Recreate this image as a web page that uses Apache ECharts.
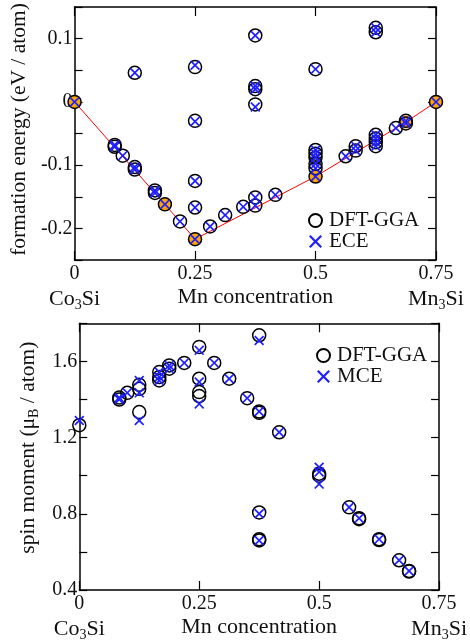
<!DOCTYPE html>
<html>
<head>
<meta charset="utf-8">
<script src="https://cdn.jsdelivr.net/npm/echarts@6/dist/echarts.min.js"></script>
<style>
html, body { margin: 0; padding: 0; background: #fff; }
#main { width: 470px; height: 642px; }
</style>
</head>
<body>
<div id="main"></div>
<script>
// formation energy (eV / atom) vs Mn concentration
var feGga = [
    [0, 0], [0.0833, -0.068], [0.0833, -0.071], [0.1, -0.085], [0.125, 0.046],
    [0.125, -0.103], [0.125, -0.107], [0.1667, -0.140], [0.1667, -0.144],
    [0.1875, -0.162], [0.2188, -0.189],
    [0.25, 0.055], [0.25, -0.030], [0.25, -0.125], [0.25, -0.167], [0.25, -0.217],
    [0.2813, -0.197], [0.3125, -0.179], [0.35, -0.166],
    [0.375, 0.105], [0.375, 0.020], [0.375, 0.025], [0.375, -0.004],
    [0.375, -0.151], [0.375, -0.164], [0.4167, -0.147],
    [0.5, 0.0517], [0.5, -0.076], [0.5, -0.082], [0.5, -0.088], [0.5, -0.098],
    [0.5, -0.105], [0.5, -0.118], [0.5625, -0.086], [0.5833, -0.070], [0.5833, -0.077],
    [0.625, 0.117], [0.625, 0.110], [0.625, -0.052], [0.625, -0.058], [0.625, -0.064],
    [0.625, -0.070], [0.6667, -0.0415], [0.6875, -0.030], [0.6875, -0.034], [0.75, 0]
];
var feEce = [
    [0, 0], [0.0833, -0.068], [0.0833, -0.071], [0.1, -0.085], [0.125, 0.046],
    [0.125, -0.103], [0.125, -0.107], [0.1667, -0.140], [0.1667, -0.144],
    [0.1875, -0.162], [0.2188, -0.189],
    [0.25, 0.058], [0.25, -0.031], [0.25, -0.125], [0.25, -0.167], [0.25, -0.217],
    [0.2813, -0.197], [0.3125, -0.179], [0.35, -0.166],
    [0.375, 0.105], [0.375, 0.020], [0.375, 0.025], [0.375, -0.008],
    [0.375, -0.151], [0.375, -0.164], [0.4167, -0.147],
    [0.5, 0.0517], [0.5, -0.076], [0.5, -0.082], [0.5, -0.088], [0.5, -0.098],
    [0.5, -0.105], [0.5, -0.118], [0.5625, -0.086], [0.5833, -0.070], [0.5833, -0.077],
    [0.625, 0.117], [0.625, 0.110], [0.625, -0.052], [0.625, -0.058], [0.625, -0.064],
    [0.625, -0.070], [0.6667, -0.0415], [0.6875, -0.030], [0.6875, -0.034], [0.75, 0]
];
var feHull = [[0, 0], [0.1875, -0.162], [0.25, -0.217], [0.5, -0.118], [0.6875, -0.032], [0.75, 0]];

// spin moment (muB / atom) vs Mn concentration
var smGga = [
    [0, 1.265], [0.0833, 1.40], [0.0833, 1.41], [0.1, 1.435], [0.125, 1.334],
    [0.125, 1.456], [0.125, 1.477], [0.1667, 1.50], [0.1667, 1.518], [0.1667, 1.544],
    [0.1875, 1.562], [0.1875, 1.579], [0.2188, 1.592],
    [0.25, 1.676], [0.25, 1.509], [0.25, 1.439], [0.25, 1.418],
    [0.2813, 1.592], [0.3125, 1.509], [0.35, 1.407],
    [0.375, 1.737], [0.375, 1.337], [0.375, 1.33], [0.375, 0.807], [0.375, 0.667],
    [0.375, 0.66], [0.4167, 1.228],
    [0.5, 1.0], [0.5, 1.01], [0.5625, 0.834], [0.5833, 0.777], [0.5833, 0.772],
    [0.625, 0.667], [0.625, 0.662], [0.6667, 0.556], [0.6875, 0.50], [0.6875, 0.497]
];
var smMce = [
    [0, 1.29], [0.0833, 1.40], [0.0833, 1.41], [0.1, 1.435], [0.125, 1.29],
    [0.125, 1.435], [0.125, 1.50], [0.1667, 1.50], [0.1667, 1.518], [0.1667, 1.544],
    [0.1875, 1.562], [0.1875, 1.579], [0.2188, 1.592],
    [0.25, 1.658], [0.25, 1.492], [0.25, 1.377],
    [0.2813, 1.592], [0.3125, 1.509], [0.35, 1.407],
    [0.375, 1.71], [0.375, 1.337], [0.375, 0.80], [0.375, 0.66], [0.4167, 1.228],
    [0.5, 1.044], [0.5, 1.02], [0.5, 0.956], [0.5625, 0.834], [0.5833, 0.777],
    [0.625, 0.667], [0.6667, 0.556], [0.6875, 0.50]
];

var xTicks = [0, 0.25, 0.5, 0.75];
var endLabels = ['Co{sub|3}Si', 'Mn concentration', 'Mn{sub|3}Si'];

var FONT = "'Liberation Serif', 'Times New Roman', serif";
var INK = '#111';
var crossPath = 'path://M0,1.2L1.2,0L5,3.8L8.8,0L10,1.2L6.2,5L10,8.8L8.8,10L5,6.2L1.2,10L0,8.8L3.8,5Z';
var subRich = { sub: { fontSize: 14, fontFamily: FONT, color: INK, padding: [12, 0, 0, 0] } };

function frameX(grid, pos) {
    return {
        type: 'value', gridIndex: grid, position: pos, min: 0, max: 0.75, interval: 0.25,
        axisLine: { onZero: false, lineStyle: { color: '#000', width: 1.5 } },
        axisTick: { inside: true, length: 9, lineStyle: { color: '#000', width: 1.2 } },
        axisLabel: pos === 'bottom' ? {
            margin: 4, fontFamily: FONT, fontSize: 20, color: INK,
            formatter: function (v) { return String(xTicks[Math.round(v * 4)]); }
        } : { show: false },
        splitLine: { show: false }
    };
}
function titleX(grid) {
    return {
        type: 'value', gridIndex: grid, position: 'bottom', offset: 24, min: 0, max: 0.75, interval: 0.375,
        axisLine: { show: false }, axisTick: { show: false }, splitLine: { show: false },
        axisLabel: {
            margin: 2, fontFamily: FONT, fontSize: 22, color: INK, rich: subRich,
            formatter: function (v) { return endLabels[Math.round(v / 0.375)]; }
        }
    };
}
function frameY(grid, pos, min, max, step, fmt, name, lift) {
    var ax = {
        type: 'value', gridIndex: grid, position: pos, min: min, max: max, interval: step,
        axisLine: { onZero: false, lineStyle: { color: '#000', width: 1.5 } },
        axisTick: { inside: true, length: 8, lineStyle: { color: '#000', width: 1.2 } },
        axisLabel: pos === 'left' ? { margin: 2, fontFamily: FONT, fontSize: 20, color: INK, formatter: fmt } : { show: false },
        splitLine: { show: false }
    };
    if (name) {
        ax.name = name;
        ax.nameLocation = 'middle';
        ax.nameRotate = 90;
        ax.nameGap = 35;
        ax.nameTextStyle = {
            fontFamily: FONT, fontSize: 21.5, color: INK, rich: subRich,
            padding: [0, 0, 0, lift]
        };
    }
    return ax;
}

function chart01() {
    var myChart = echarts.init(document.getElementById('main'));
    var option = {
        animation: false,
        backgroundColor: '#fff',
        grid: [
            { left: 74.5, top: 7, width: 361.5, height: 253 },
            { left: 79.3, top: 323.3, width: 361.4, height: 267.4 }
        ],
        legend: [
            {
                data: ['DFT-GGA', 'ECE'], orient: 'vertical', left: 303, top: 205,
                itemWidth: 17, itemHeight: 13, itemGap: 0,
                textStyle: { fontFamily: FONT, fontSize: 21, color: INK, lineHeight: 18 }
            },
            {
                data: ['DFT-GGA ', 'MCE'], orient: 'vertical', left: 311, top: 340,
                itemWidth: 17, itemHeight: 13, itemGap: 0,
                formatter: function (n) { return n.trim(); },
                textStyle: { fontFamily: FONT, fontSize: 21, color: INK, lineHeight: 18 }
            }
        ],
        xAxis: [frameX(0, 'bottom'), frameX(0, 'top'), titleX(0),
                frameX(1, 'bottom'), frameX(1, 'top'), titleX(1)],
        yAxis: [
            frameY(0, 'left', -0.25, 0.15, 0.05, function (v) {
                var k = Math.round(v * 100);
                if (k % 10 !== 0) return '';
                return k === 0 ? '0' : (k / 100).toFixed(1);
            }, 'formation energy (eV / atom)', 8),
            frameY(0, 'right', -0.25, 0.15, 0.05),
            frameY(1, 'left', 0.4, 1.8, 0.2, function (v) {
                return Math.round(v * 10) % 4 === 0 ? v.toFixed(1) : '';
            }, 'spin moment (\u03bc{sub|B} / atom)', 18),
            frameY(1, 'right', 0.4, 1.8, 0.2)
        ],
        series: [
            {
                type: 'line', xAxisIndex: 0, yAxisIndex: 0, data: feHull, symbol: 'none',
                lineStyle: { color: '#ff0000', width: 1 }, z: 1, silent: true
            },
            {
                type: 'scatter', xAxisIndex: 0, yAxisIndex: 0, data: feHull, symbol: 'circle',
                symbolSize: 13, itemStyle: { color: '#ffa500', opacity: 1 }, z: 2
            },
            {
                name: 'DFT-GGA', type: 'scatter', xAxisIndex: 0, yAxisIndex: 0, data: feGga,
                symbol: 'circle', symbolSize: 13,
                itemStyle: { color: 'rgba(0,0,0,0)', borderColor: '#000', borderWidth: 1.5, opacity: 1 }, z: 3
            },
            {
                name: 'ECE', type: 'scatter', xAxisIndex: 0, yAxisIndex: 0, data: feEce,
                symbol: crossPath, symbolSize: 10, itemStyle: { color: '#1f1fff', opacity: 1 }, z: 4
            },
            {
                name: 'DFT-GGA ', type: 'scatter', xAxisIndex: 3, yAxisIndex: 2, data: smGga,
                symbol: 'circle', symbolSize: 13,
                itemStyle: { color: 'rgba(0,0,0,0)', borderColor: '#000', borderWidth: 1.5, opacity: 1 }, z: 3
            },
            {
                name: 'MCE', type: 'scatter', xAxisIndex: 3, yAxisIndex: 2, data: smMce,
                symbol: crossPath, symbolSize: 10, itemStyle: { color: '#1f1fff', opacity: 1 }, z: 4
            }
        ]
    };
    myChart.setOption(option);
}
chart01();
</script>
</body>
</html>
